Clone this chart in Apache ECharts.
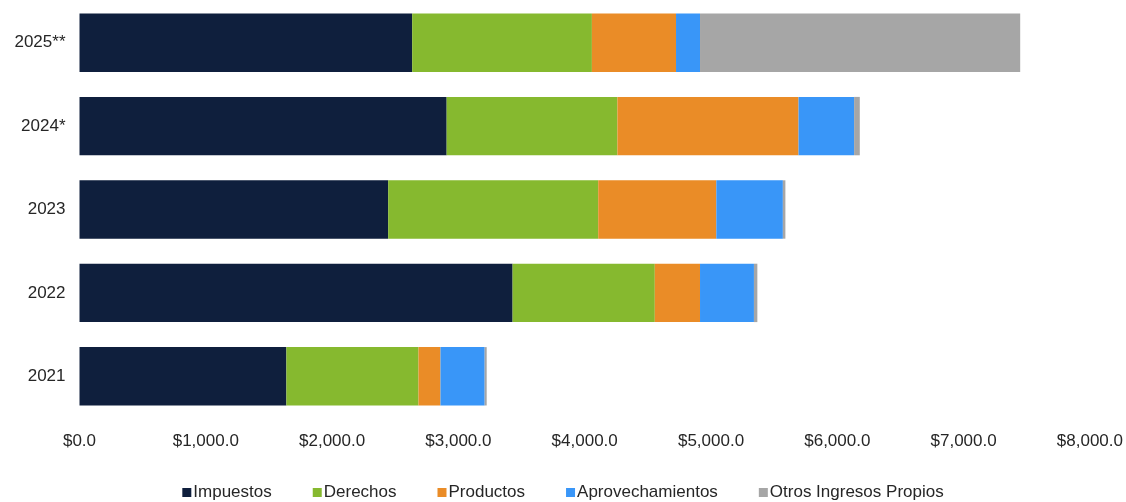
<!DOCTYPE html>
<html>
<head>
<meta charset="utf-8">
<script src="https://cdn.jsdelivr.net/npm/echarts@6/dist/echarts.min.js"></script>
<style>
  html, body { margin: 0; padding: 0; background: #ffffff; }
  #chart { width: 1126px; height: 502px; }
</style>
</head>
<body>
<div id="chart"></div>
<script>
const categories = ['2021', '2022', '2023', '2024*', '2025**'];
const seriesNames = ['Impuestos', 'Derechos', 'Productos', 'Aprovechamientos', 'Otros Ingresos Propios'];
const impuestos = [1638, 3429, 2444, 2907, 2634];
const derechos = [1046, 1126, 1663, 1352, 1423];
const productos = [174, 358, 935, 1434, 666];
const aprovechamientos = [350, 427, 527, 440, 190];
const otros = [16, 27, 20, 45, 2535];
const colors = ['#0F1F3D', '#86B92F', '#EA8C27', '#3996F8', '#A6A6A6'];
const xTicks = { min: 0, max: 8000, interval: 1000 };

const values = [impuestos, derechos, productos, aprovechamientos, otros];
const font = '"Liberation Sans", Arial, sans-serif';

const chart = echarts.init(document.getElementById('chart'));
chart.setOption({
  animation: false,
  color: colors,
  grid: { left: 79.5, right: 34.5, top: 1, bottom: 84, containLabel: false },
  xAxis: {
    type: 'value',
    min: xTicks.min, max: xTicks.max, interval: xTicks.interval,
    axisLine: { show: false }, axisTick: { show: false },
    splitLine: { show: false },
    axisLabel: {
      margin: 15, color: '#262626', fontFamily: font, fontSize: 17,
      formatter: v => '$' + v.toLocaleString('en-US', { minimumFractionDigits: 1, maximumFractionDigits: 1 })
    }
  },
  yAxis: {
    type: 'category', data: categories,
    axisLine: { show: false }, axisTick: { show: false },
    axisLabel: { margin: 14, color: '#262626', fontFamily: font, fontSize: 17 }
  },
  legend: {
    top: 479, left: 'center',
    itemWidth: 9, itemHeight: 9, itemGap: 41,
    icon: 'rect',
    textStyle: { color: '#262626', fontFamily: font, fontSize: 17, padding: [0, 0, 0, -3] },
    data: seriesNames
  },
  series: seriesNames.map((name, i) => ({
    name, type: 'bar', stack: 'total',
    barCategoryGap: '30%',
    data: values[i],
    itemStyle: { color: colors[i] }
  }))
});
</script>
</body>
</html>
